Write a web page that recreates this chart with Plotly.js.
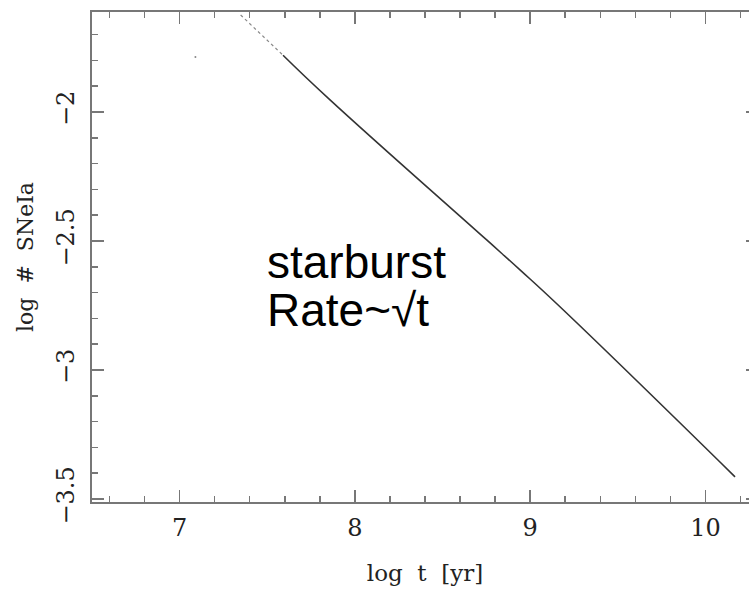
<!DOCTYPE html>
<html>
<head>
<meta charset="utf-8">
<script src="https://cdn.plot.ly/plotly-3.0.1.min.js"></script>
<style>
html,body{margin:0;padding:0;background:#fff;overflow:hidden;}
#chart{width:760px;height:595px;}
</style>
</head>
<body>
<div id="chart"></div>
<script>
// Data
const sparseLogT = [7.348, 7.590];
const sparseLogN = [-1.624, -1.780];
const curveLogT = [7.590, 7.858, 8.752, 8.942, 9.170, 10.169];
const curveLogN = [-1.780, -1.953, -2.496, -2.612, -2.755, -3.414];
const strayLogT = [7.09];
const strayLogN = [-1.787];
const xTickVals = [7, 8, 9, 10];
const xTickText = ['7', '8', '9', '10'];
const yTickVals = [-2, -2.5, -3, -3.5];
const yTickText = ['\u22122', '\u22122.5', '\u22123', '\u22123.5'];
const labelLines = ['starburst', 'Rate~\u221At'];

const serif = 'DejaVu Serif, Liberation Serif, serif';
const axisColor = '#777';

const traces = [
  {x: curveLogT, y: curveLogN, mode: 'lines', line: {color: '#333', width: 1.6, shape: 'spline', smoothing: 1.3}, hoverinfo: 'skip'},
  {x: sparseLogT, y: sparseLogN, mode: 'lines', line: {color: '#888', width: 1.2, dash: 'dot'}, hoverinfo: 'skip'},
  {x: strayLogT, y: strayLogN, mode: 'markers', marker: {color: '#888', size: 2}, hoverinfo: 'skip'}
];

const big = s => '<span style="font-size:46px">' + s + '</span>';

const layout = {
  width: 760, height: 595,
  margin: {l: 92, r: 2, t: 12, b: 93},
  paper_bgcolor: '#fff', plot_bgcolor: '#fff',
  showlegend: false,
  xaxis: {
    range: [6.5, 10.3],
    showgrid: false, zeroline: false,
    showline: true, linecolor: axisColor, linewidth: 2, mirror: 'ticks',
    ticks: 'inside', ticklen: 12, tickwidth: 1.5, tickcolor: axisColor,
    tickvals: xTickVals, ticktext: xTickText,
    minor: {dtick: 0.2, ticks: 'inside', ticklen: 6, tickwidth: 1.5, tickcolor: axisColor, showgrid: false},
    tickfont: {family: serif, size: 24, color: '#222'},
    ticklabelstandoff: 3,
    title: {text: 'log  t  [yr]', font: {family: serif, size: 23, color: '#222'}, standoff: 24}
  },
  yaxis: {
    range: [-3.5116, -1.6124],
    showgrid: false, zeroline: false,
    showline: true, linecolor: axisColor, linewidth: 2, mirror: 'ticks',
    ticks: 'inside', ticklen: 12, tickwidth: 1.5, tickcolor: axisColor,
    tickvals: yTickVals, ticktext: yTickText, tickangle: -90,
    minor: {dtick: 0.1, ticks: 'inside', ticklen: 6, tickwidth: 1.5, tickcolor: axisColor, showgrid: false},
    tickfont: {family: serif, size: 24, color: '#222'},
    ticklabelstandoff: 6,
    title: {text: 'log  #  SNeIa', font: {family: serif, size: 22, color: '#222'}, standoff: 13}
  },
  annotations: [
    {xref: 'x', yref: 'y', x: 7.485, y: -2.676, xanchor: 'left', yanchor: 'middle', align: 'left', showarrow: false,
     text: labelLines.map(big).join('<br>'),
     font: {family: 'Liberation Sans, Arial, sans-serif', size: 37, color: '#000'}}
  ]
};

Plotly.newPlot('chart', traces, layout, {staticPlot: true, displayModeBar: false});
</script>
</body>
</html>
